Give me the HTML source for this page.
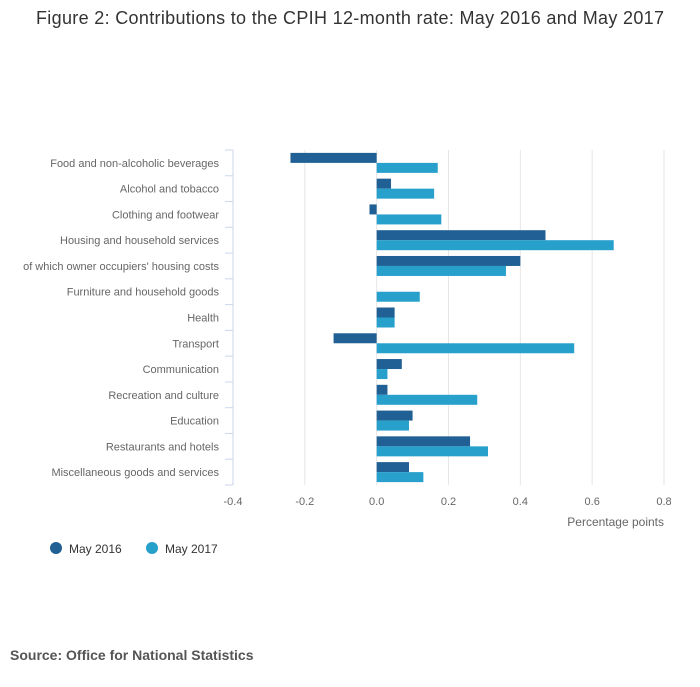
<!DOCTYPE html>
<html><head><meta charset="utf-8"><style>
body{margin:0;background:#fff;font-family:"Liberation Sans",sans-serif;}
</style></head><body>
<svg width="700" height="682" viewBox="0 0 700 682" xmlns="http://www.w3.org/2000/svg">
<text x="36" y="24" textLength="628" font-size="18" fill="#333" font-family="Liberation Sans, sans-serif">Figure 2: Contributions to the CPIH 12-month rate: May 2016 and May 2017</text>
<g id="grid"></g><g id="bars"></g><g id="axes"></g>
<text x="664" y="526" text-anchor="end" font-size="12" fill="#666">Percentage points</text>
<g>
<circle cx="56" cy="548" r="6" fill="#206095"/>
<text x="69" y="553" font-size="12" fill="#333">May 2016</text>
<circle cx="152" cy="548" r="6" fill="#27a0cc"/>
<text x="165" y="553" font-size="12" fill="#333">May 2017</text>
</g>
<text x="10" y="660" font-size="14" font-weight="bold" fill="#555">Source: Office for National Statistics</text>
</svg>
<script>
const categories=["Food and non-alcoholic beverages","Alcohol and tobacco","Clothing and footwear","Housing and household services","of which owner occupiers' housing costs","Furniture and household goods","Health","Transport","Communication","Recreation and culture","Education","Restaurants and hotels","Miscellaneous goods and services"];
const may2016=[-0.24,0.04,-0.02,0.47,0.40,0.00,0.05,-0.12,0.07,0.03,0.10,0.26,0.09];
const may2017=[0.17,0.16,0.18,0.66,0.36,0.12,0.05,0.55,0.03,0.28,0.09,0.31,0.13];
const xTicks=[-0.4,-0.2,0,0.2,0.4,0.6,0.8];
const NS="http://www.w3.org/2000/svg";
const x0=233,x1=664,yTop=150,yBottom=485,xmin=-0.4,xmax=0.8;
const xs=v=>x0+(v-xmin)/(xmax-xmin)*(x1-x0);
const rowH=(yBottom-yTop)/categories.length;
function mk(t,a,p){const e=document.createElementNS(NS,t);for(const k in a)e.setAttribute(k,a[k]);p.appendChild(e);return e;}
const grid=document.getElementById('grid'),bars=document.getElementById('bars'),axes=document.getElementById('axes');
xTicks.forEach(v=>{
 if(v!==xmin){const l=mk('line',{x1:xs(v),x2:xs(v),y1:yTop,y2:yBottom,stroke:'#e6e6e6'},grid);
 
 }
 const t=mk('text',{x:xs(v),y:505,'text-anchor':'middle','font-size':11,fill:'#666'},axes);
 t.textContent=(v===0?'0.0':v.toFixed(1));
 
 
});
const ax=mk('line',{x1:x0,x2:x0,y1:yTop,y2:yBottom,stroke:'#ccd6eb'},axes);


for(let i=0;i<=categories.length;i++){const y=yTop+i*rowH;
 const tk=mk('line',{x1:x0-8,x2:x0,y1:y,y2:y,stroke:'#ccd6eb'},axes);
 
 }
categories.forEach((c,i)=>{
 const yc=yTop+i*rowH+rowH/2;
 const t=mk('text',{x:219,y:yc+4,'text-anchor':'end','font-size':11,fill:'#666'},axes);
 t.textContent=c;
 
 
 [[may2016[i],'#206095',yc-10,'bar-may-2016'],[may2017[i],'#27a0cc',yc,'bar-may-2017']].forEach(([v,col,y,n])=>{
  const a=xs(Math.min(0,v)),b=xs(Math.max(0,v));
  const r=mk('rect',{x:a,y:y,width:Math.max(0,b-a),height:10,fill:col},bars);
  
  
 });
});
</script>
</body></html>
